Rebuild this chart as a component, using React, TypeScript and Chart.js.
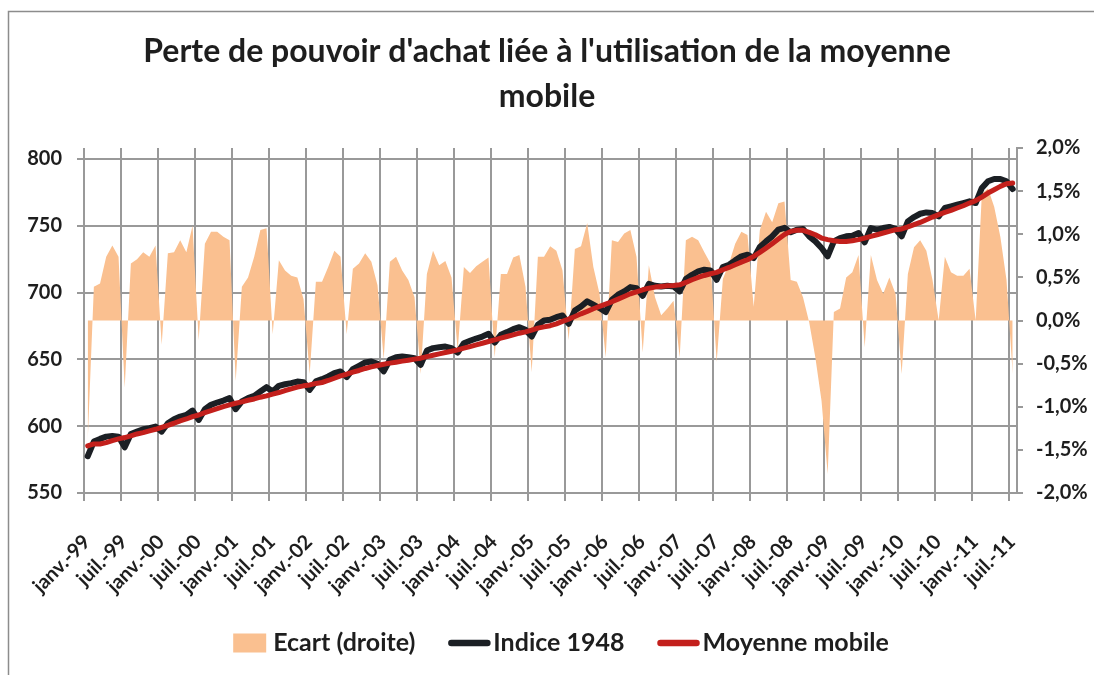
import React, { useEffect, useRef } from 'react';
import { Chart, registerables } from 'chart.js';

Chart.register(...registerables);

const TITLE_LINES = ["Perte de pouvoir d'achat liée à l'utilisation de la moyenne", 'mobile'];

const TICK_LABELS = [
  'janv.-99', 'juil.-99', 'janv.-00', 'juil.-00', 'janv.-01', 'juil.-01',
  'janv.-02', 'juil.-02', 'janv.-03', 'juil.-03', 'janv.-04', 'juil.-04',
  'janv.-05', 'juil.-05', 'janv.-06', 'juil.-06', 'janv.-07', 'juil.-07',
  'janv.-08', 'juil.-08', 'janv.-09', 'juil.-09', 'janv.-10', 'juil.-10',
  'janv.-11', 'juil.-11',
];
const MONTHS_PER_TICK = 6;
// monthly observations are dated a little after the first of the month
const OBS_OFFSET = 0.6;
const AXIS_END_MONTH = 151.3;

const LEFT_TICKS = [550, 600, 650, 700, 750, 800];
const LEFT_MIN = 550;
const LEFT_MAX = 808.2;
const RIGHT_TICKS = [-2, -1.5, -1, -0.5, 0, 0.5, 1, 1.5, 2];

const SERIES_LABELS = ['Ecart (droite)', 'Indice 1948', 'Moyenne mobile'];

// Ecart (%), janv.-99 .. juil.-11
const ecart = [
  -1.40, 0.39, 0.43, 0.74, 0.87, 0.74, -0.78, 0.66, 0.71, 0.79, 0.74, 0.87,
  -0.28, 0.78, 0.79, 0.93, 0.79, 1.10, -0.23, 0.89, 1.03, 1.03, 0.97, 0.93,
  -0.70, 0.39, 0.50, 0.74, 1.05, 1.07, -0.16, 0.70, 0.58, 0.52, 0.50, 0.25,
  -0.62, 0.45, 0.45, 0.62, 0.81, 0.74, -0.16, 0.60, 0.66, 0.78, 0.68, 0.41,
  -0.45, 0.68, 0.74, 0.58, 0.47, 0.27, -0.62, 0.54, 0.81, 0.64, 0.69, 0.50,
  -0.35, 0.62, 0.55, 0.63, 0.68, 0.73, -0.43, 0.54, 0.54, 0.73, 0.76, 0.39,
  -0.60, 0.74, 0.74, 0.86, 0.81, 0.58, -0.23, 0.83, 0.86, 1.13, 0.62, 0.31,
  -0.43, 0.93, 0.91, 1.01, 1.05, 0.74, -0.37, 0.64, 0.27, 0.06, 0.14, 0.23,
  -0.43, 0.93, 0.97, 0.93, 0.79, 0.66, -0.48, 0.48, 0.66, 0.89, 1.03, 0.99,
  0.16, 1.05, 1.26, 1.14, 1.36, 1.38, 0.47, 0.45, 0.27, -0.02, -0.43, -0.93,
  -1.78, 0.10, 0.14, 0.50, 0.56, 0.76, -0.31, 0.76, 0.47, 0.31, 0.50, 0.31,
  -0.62, 0.54, 0.85, 0.93, 0.81, 0.47, 0.00, 0.74, 0.56, 0.52, 0.52, 0.60,
  0.00, 1.47, 1.53, 1.32, 0.97, 0.47, -0.62,
];

// Indice 1948
const indice = [
  577.5, 588.5, 590.5, 592.2, 592.7, 592.2, 584.2, 594.2, 596.0, 597.7, 598.5, 599.7,
  596.0, 602.2, 605.2, 607.2, 608.4, 611.7, 604.7, 612.7, 616.0, 617.7, 619.2, 621.0,
  612.7, 618.5, 621.0, 622.7, 626.0, 629.2, 626.0, 630.2, 631.4, 632.2, 633.4, 632.9,
  627.2, 633.5, 635.2, 637.2, 639.7, 641.0, 636.7, 642.7, 645.2, 647.7, 648.4, 646.7,
  641.0, 649.7, 651.6, 652.1, 651.6, 650.9, 645.9, 656.6, 658.4, 659.1, 659.6, 658.4,
  655.1, 662.1, 663.9, 665.6, 667.1, 669.1, 662.6, 668.4, 670.4, 672.6, 674.1, 672.1,
  667.1, 675.9, 679.1, 679.6, 681.6, 682.9, 676.6, 686.6, 689.6, 693.4, 690.9, 688.4,
  685.4, 694.6, 698.4, 700.9, 704.1, 703.3, 697.6, 706.6, 705.1, 704.6, 705.1, 704.6,
  700.9, 710.1, 713.3, 715.8, 717.1, 716.6, 709.6, 719.1, 720.8, 724.1, 727.1, 728.3,
  725.8, 734.1, 738.3, 742.1, 747.1, 748.5, 745.1, 747.1, 747.6, 742.1, 738.3, 733.3,
  727.1, 738.3, 740.8, 742.1, 742.6, 744.6, 737.6, 748.3, 747.1, 748.3, 749.1, 747.6,
  742.1, 753.3, 756.5, 759.0, 760.0, 759.5, 757.0, 763.3, 764.5, 765.8, 767.0, 768.3,
  767.0, 778.3, 783.3, 785.0, 785.0, 783.3, 777.5,
];

// Moyenne mobile
const moyenne = [
  585.2, 586.7, 586.7, 587.7, 589.2, 590.5, 591.5, 592.7, 594.2, 595.2, 596.5, 597.7,
  599.2, 600.7, 602.2, 604.0, 605.4, 607.2, 608.4, 610.2, 611.7, 613.2, 614.7, 616.0,
  617.2, 618.2, 619.4, 620.4, 621.7, 622.7, 624.0, 625.2, 626.7, 627.9, 629.2, 630.2,
  630.9, 632.0, 632.7, 634.2, 635.9, 637.7, 638.9, 640.4, 641.7, 643.2, 644.4, 645.4,
  646.4, 647.2, 647.9, 648.7, 649.4, 650.2, 650.9, 652.1, 653.1, 654.1, 655.1, 656.1,
  657.1, 658.4, 659.6, 660.9, 662.1, 663.4, 664.6, 665.9, 667.1, 668.4, 669.6, 670.6,
  671.9, 673.4, 674.3, 675.2, 676.6, 678.4, 680.1, 682.1, 684.1, 685.9, 687.9, 689.6,
  691.4, 693.1, 695.1, 697.1, 699.1, 700.6, 702.1, 703.3, 704.1, 704.6, 705.1, 705.3,
  705.8, 707.6, 709.6, 711.3, 712.8, 714.1, 715.1, 717.1, 718.8, 720.8, 722.8, 724.6,
  727.1, 730.1, 733.3, 736.6, 740.1, 743.5, 745.8, 746.6, 746.6, 745.1, 743.3, 740.8,
  739.6, 738.8, 738.3, 738.3, 738.8, 739.6, 740.8, 742.1, 743.3, 744.6, 745.8, 747.1,
  747.6, 749.1, 750.8, 752.5, 754.5, 756.5, 758.3, 760.0, 761.5, 763.3, 765.0, 767.0,
  768.8, 771.5, 774.5, 777.0, 779.5, 781.5, 782.0,
];

const FONT = 'Lato, "Open Sans", "DejaVu Sans", sans-serif';
const TEXT_COLOR = '#1e1e1e';
const GRID_COLOR = '#999999';
const ORANGE = '#FAC090';
const BLACK = '#1b1f24';
const RED = '#C3201C';

const toPoints = (arr: number[]) => arr.map((v, i) => ({ x: i + OBS_OFFSET, y: v }));

const framePlugin = {
  id: 'frame',
  beforeDraw(chart: any) {
    const ctx = chart.ctx;
    ctx.save();
    ctx.fillStyle = '#ffffff';
    ctx.fillRect(0, 0, chart.width, chart.height);
    ctx.strokeStyle = '#8c8c8c';
    ctx.lineWidth = 1.5;
    ctx.beginPath();
    ctx.moveTo(8.5, chart.height);
    ctx.lineTo(8.5, 11.5);
    ctx.lineTo(chart.width, 11.5);
    ctx.stroke();
    ctx.restore();
  },
};

const legendPlugin = {
  id: 'bottomLegend',
  afterDraw(chart: any) {
    const ctx = chart.ctx;
    ctx.save();
    ctx.font = `bold 25px ${FONT}`;
    ctx.textBaseline = 'middle';
    ctx.textAlign = 'left';
    const cy = 643;
    const items = chart.data.datasets.map((ds: any) => ({
      label: ds.label,
      box: !!ds.fill,
      color: ds.fill ? ds.backgroundColor : ds.borderColor,
    }));
    const boxW = 33, boxH = 19, lineW = 42, gapBox = 7, gapLine = 3, gapItem = 33;
    const widths = items.map((it: any) =>
      (it.box ? boxW + gapBox : lineW + gapLine) + ctx.measureText(it.label).width);
    const total = widths.reduce((a: number, b: number) => a + b, 0) + gapItem * (items.length - 1);
    let x = 561 - total / 2;
    items.forEach((it: any, k: number) => {
      if (it.box) {
        ctx.fillStyle = it.color;
        ctx.fillRect(x, cy - boxH / 2, boxW, boxH);
        ctx.fillStyle = TEXT_COLOR;
        ctx.fillText(it.label, x + boxW + gapBox, cy);
      } else {
        ctx.strokeStyle = it.color;
        ctx.lineWidth = 6.5;
        ctx.lineCap = 'round';
        ctx.beginPath();
        ctx.moveTo(x + 3, cy);
        ctx.lineTo(x + lineW - 3, cy);
        ctx.stroke();
        ctx.fillStyle = TEXT_COLOR;
        ctx.fillText(it.label, x + lineW + gapLine, cy);
      }
      x += widths[k] + gapItem;
    });
    ctx.restore();
  },
};

export default function App() {
  const canvasRef = useRef<HTMLCanvasElement | null>(null);

  useEffect(() => {
    if (!canvasRef.current) return;
    const tickFont = { family: FONT, size: 20, weight: 'bold' as const };
    const chart = new Chart(canvasRef.current, {
      type: 'line',
      data: {
        datasets: [
          {
            label: SERIES_LABELS[0],
            data: toPoints(ecart),
            yAxisID: 'yR',
            fill: 'origin',
            backgroundColor: ORANGE,
            borderColor: 'rgba(0,0,0,0)',
            borderWidth: 1,
            pointRadius: 0,
            tension: 0,
            order: 3,
          },
          {
            label: SERIES_LABELS[1],
            data: toPoints(indice),
            yAxisID: 'yL',
            fill: false,
            borderColor: BLACK,
            backgroundColor: BLACK,
            borderWidth: 6,
            borderJoinStyle: 'round',
            borderCapStyle: 'round',
            pointRadius: 0,
            tension: 0,
            order: 2,
          },
          {
            label: SERIES_LABELS[2],
            data: toPoints(moyenne),
            yAxisID: 'yL',
            fill: false,
            borderColor: RED,
            backgroundColor: RED,
            borderWidth: 5,
            borderJoinStyle: 'round',
            borderCapStyle: 'round',
            pointRadius: 0,
            tension: 0,
            order: 1,
          },
        ],
      },
      options: {
        responsive: false,
        animation: false,
        layout: { padding: { left: 0, right: 0, top: 0, bottom: 67 } },
        plugins: {
          legend: { display: false },
          tooltip: { enabled: false },
          title: {
            display: true,
            text: TITLE_LINES,
            color: TEXT_COLOR,
            font: { family: FONT, size: 32, weight: 'bold', lineHeight: 45 / 32 },
            padding: { top: 29.5, bottom: 28.5 },
          },
        },
        scales: {
          x: {
            type: 'linear',
            position: 'bottom',
            min: 0,
            max: AXIS_END_MONTH,
            afterBuildTicks: (axis: any) => {
              axis.ticks = TICK_LABELS.map((_, k) => ({ value: k * MONTHS_PER_TICK }));
            },
            afterFit: (axis: any) => {
              axis.height = 115;
            },
            ticks: {
              autoSkip: false,
              minRotation: 45,
              maxRotation: 45,
              padding: 29,
              labelOffset: 3,
              color: TEXT_COLOR,
              font: tickFont,
              callback: (v: any) => TICK_LABELS[Math.round(Number(v) / MONTHS_PER_TICK)] ?? '',
            },
            grid: { color: GRID_COLOR, lineWidth: 2, tickLength: 8, drawTicks: true },
            border: { display: false },
          },
          yL: {
            type: 'linear',
            position: 'left',
            min: LEFT_MIN,
            max: LEFT_MAX,
            afterBuildTicks: (axis: any) => {
              axis.ticks = LEFT_TICKS.map((v) => ({ value: v }));
            },
            afterFit: (axis: any) => {
              axis.width = 84;
            },
            ticks: { color: TEXT_COLOR, font: tickFont, padding: 15 },
            grid: { color: GRID_COLOR, lineWidth: 2, tickLength: 7 },
            border: { display: false },
          },
          yR: {
            type: 'linear',
            position: 'right',
            min: -2,
            max: 2,
            afterBuildTicks: (axis: any) => {
              axis.ticks = RIGHT_TICKS.map((v) => ({ value: v }));
            },
            afterFit: (axis: any) => {
              axis.width = 77;
            },
            ticks: {
              color: TEXT_COLOR,
              font: tickFont,
              padding: 13,
              callback: (v: any) => Number(v).toFixed(1).replace('.', ',') + '%',
            },
            grid: { color: GRID_COLOR, lineWidth: 2, tickLength: 6, drawOnChartArea: false },
            border: { display: true, color: GRID_COLOR, width: 2 },
          },
        },
      },
      plugins: [framePlugin, legendPlugin],
    } as any);
    return () => chart.destroy();
  }, []);

  return (
    <div style={{ position: 'fixed', left: 0, top: 0, width: 1094, height: 675, background: '#fff' }}>
      <canvas ref={canvasRef} width={1094} height={675} style={{ display: 'block' }} />
    </div>
  );
}
